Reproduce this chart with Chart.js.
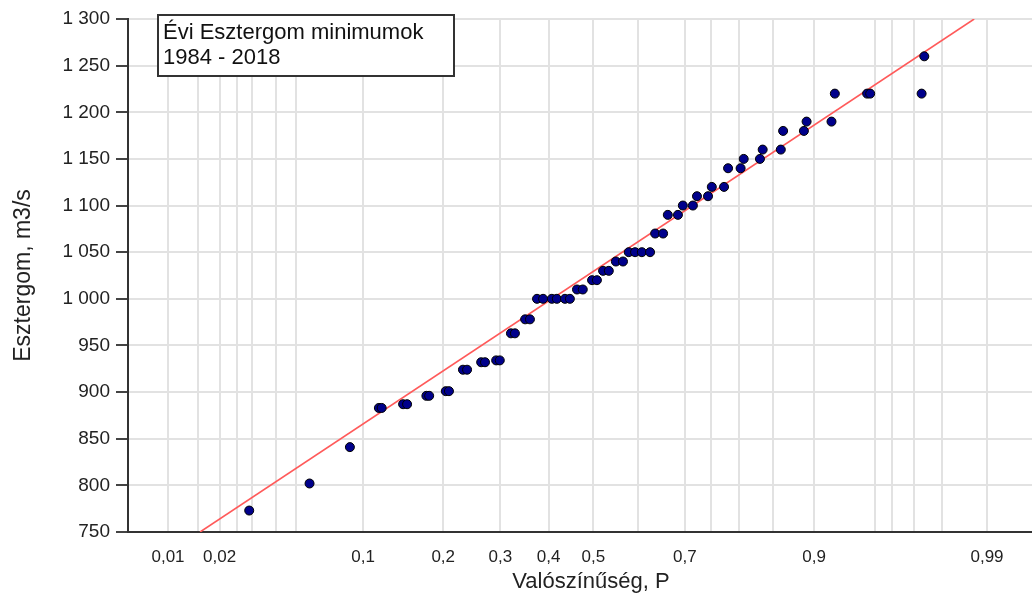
<!DOCTYPE html>
<html lang="hu">
<head>
<meta charset="utf-8">
<title>Évi Esztergom minimumok</title>
<script src="https://cdn.jsdelivr.net/npm/chart.js@4.4.1/dist/chart.umd.min.js"></script>
<style>
	html, body { margin: 0; padding: 0; background: #fff; }
	#wrapper { width: 1032px; height: 599px; }
</style>
</head>
<body>
<div id="wrapper"><canvas id="chart" width="1032" height="599"></canvas></div>
<script>
// Plotting positions (P) of the yearly minimums
const probabilities = [
	0.029, 0.058, 0.088, 0.116, 0.119, 0.144, 0.149, 0.175, 0.179, 0.204,
	0.209, 0.232, 0.239, 0.264, 0.271, 0.292, 0.299, 0.321, 0.329, 0.350,
	0.360, 0.375, 0.388, 0.407, 0.418, 0.436, 0.447, 0.463, 0.476, 0.497,
	0.508, 0.522, 0.535, 0.551, 0.567, 0.580, 0.594, 0.609, 0.627, 0.638,
	0.655, 0.665, 0.686, 0.696, 0.716, 0.724, 0.745, 0.752, 0.774, 0.781,
	0.802, 0.807, 0.832, 0.836, 0.861, 0.864, 0.889, 0.892, 0.917, 0.920,
	0.945, 0.947, 0.973, 0.974
];

// Yearly minimum discharge at Esztergom, m3/s
const discharges = [
	773, 802, 841, 883, 883, 887, 887, 896, 896, 901,
	901, 924, 924, 932, 932, 934, 934, 963, 963, 978,
	978, 1000, 1000, 1000, 1000, 1000, 1000, 1010, 1010, 1020,
	1020, 1030, 1030, 1040, 1040, 1050, 1050, 1050, 1050, 1070,
	1070, 1090, 1090, 1100, 1100, 1110, 1110, 1120, 1120, 1140,
	1140, 1150, 1150, 1160, 1160, 1180, 1180, 1190, 1190, 1220,
	1220, 1220, 1220, 1260
];

// Fitted distribution line, read where it leaves the plot
const fitProbabilities = [0.0155, 0.9877];
const fitDischarges = [750, 1300];

// Probability paper: grid lines and the ones that get a label
const probabilityTicks = [
	0.01, 0.015, 0.02, 0.025, 0.03, 0.04, 0.05, 0.1, 0.2, 0.3, 0.4, 0.5,
	0.6, 0.7, 0.75, 0.8, 0.85, 0.9, 0.95, 0.96, 0.97, 0.98, 0.99
];
const labeledTicks = [0.01, 0.02, 0.1, 0.2, 0.3, 0.4, 0.5, 0.7, 0.9, 0.99];
const probabilityRange = [0.0056, 0.9954];
const dischargeRange = [750, 1300];
const dischargeStep = 50;
const skew = -0.1;

const legendLines = ["Évi Esztergom minimumok", "1984 - 2018"];
const xTitle = "Valószínűség, P";
const yTitle = "Esztergom, m3/s";

const fontFamily = "'Liberation Sans', Arial, sans-serif";

window.addEventListener("load", e => {
	registerProbabilityScale();
	drawChart();
});

// Inverse of the standard normal distribution (Acklam)
function normInv(p) {
	const a = [-39.69683028665376, 220.9460984245205, -275.9285104469687, 138.3577518672690, -30.66479806614716, 2.506628277459239];
	const b = [-54.47609879822406, 161.5858368580409, -155.6989798598866, 66.80131188771972, -13.28068155288572];
	const c = [-0.007784894002430293, -0.3223964580411365, -2.400758277161838, -2.549732539343734, 4.374664141464968, 2.938163982698783];
	const d = [0.007784695709041462, 0.3224671290700398, 2.445134137142996, 3.754408661907416];
	const pLow = 0.02425;
	let q, r;

	if (p < pLow) {
		q = Math.sqrt(-2 * Math.log(p));
		return (((((c[0] * q + c[1]) * q + c[2]) * q + c[3]) * q + c[4]) * q + c[5]) /
			((((d[0] * q + d[1]) * q + d[2]) * q + d[3]) * q + 1);
	}
	if (p <= 1 - pLow) {
		q = p - 0.5;
		r = q * q;
		return (((((a[0] * r + a[1]) * r + a[2]) * r + a[3]) * r + a[4]) * r + a[5]) * q /
			(((((b[0] * r + b[1]) * r + b[2]) * r + b[3]) * r + b[4]) * r + 1);
	}
	q = Math.sqrt(-2 * Math.log(1 - p));
	return -(((((c[0] * q + c[1]) * q + c[2]) * q + c[3]) * q + c[4]) * q + c[5]) /
		((((d[0] * q + d[1]) * q + d[2]) * q + d[3]) * q + 1);
}

// Pearson III frequency factor (Wilson-Hilferty), this is what the x axis is linear in
function frequencyFactor(p) {
	const z = normInv(p);
	const k = skew / 6;
	return (2 / skew) * (Math.pow(1 + k * z - k * k, 3) - 1);
}

function registerProbabilityScale() {
	const LinearScale = Chart.registry.getScale("linear");

	class ProbabilityScale extends LinearScale {
		determineDataLimits() {
			this.min = frequencyFactor(this.options.min);
			this.max = frequencyFactor(this.options.max);
		}
		buildTicks() {
			return probabilityTicks.map(p => ({ value: p }));
		}
		getPixelForValue(value) {
			return super.getPixelForValue(frequencyFactor(value));
		}
	}
	ProbabilityScale.id = "probability";
	ProbabilityScale.defaults = {};

	Chart.register(ProbabilityScale);
}

// "1 300" style numbers
function formatThousands(value) {
	if (value < 1000) return String(value);
	return Math.floor(value / 1000) + "\u00a0" + String(value % 1000).padStart(3, "0");
}

// White box with the series description, and the x axis title
const annotations = {
	id: "annotations",
	afterDraw(chart) {
		const ctx = chart.ctx;
		const area = chart.chartArea;
		const left = area.left + 30;
		const top = area.top - 4;

		ctx.save();
		ctx.fillStyle = "#fff";
		ctx.fillRect(left, top, 296, 61);
		ctx.strokeStyle = "#333";
		ctx.lineWidth = 2;
		ctx.strokeRect(left, top, 296, 61);
		ctx.fillStyle = "#111";
		ctx.font = "22px " + fontFamily;
		ctx.textBaseline = "middle";
		legendLines.forEach((line, i) => {
			ctx.fillText(line, left + 5, top + 18 + i * 25);
		});

		// x title sits a little right of the plot centre
		ctx.fillStyle = "#222";
		ctx.textAlign = "center";
		ctx.fillText(xTitle, (area.left + area.right) / 2 + 11, chart.height - 17);
		ctx.restore();
	}
};

function drawChart() {
	const points = probabilities.map((p, i) => ({ x: p, y: discharges[i] }));
	const fit = fitProbabilities.map((p, i) => ({ x: p, y: fitDischarges[i] }));

	const ctx = document.getElementById("chart").getContext("2d");
	new Chart(ctx, {
		type: "scatter",
		data: {
			datasets: [
				{
					label: "Minimumok",
					data: points,
					backgroundColor: "#00008b",
					borderColor: "#000",
					borderWidth: 1,
					pointRadius: 4.5,
					order: 0,
				},
				{
					label: "Illesztés",
					data: fit,
					showLine: true,
					borderColor: "#ff5a5a",
					borderWidth: 1.6,
					pointRadius: 0,
					order: 1,
				},
			],
		},
		options: {
			responsive: false,
			animation: false,
			events: [],
			layout: { autoPadding: false, padding: { top: 19, right: 0, bottom: 0, left: 0 } },
			plugins: {
				legend: { display: false },
				tooltip: { enabled: false },
			},
			scales: {
				x: {
					type: "probability",
					min: probabilityRange[0],
					max: probabilityRange[1],
					border: { color: "#333", width: 2 },
					grid: { color: "#e2e2e2", lineWidth: 2, drawTicks: false },
					ticks: {
						autoSkip: false,
						maxRotation: 0,
						padding: 15,
						color: "#222",
						font: { family: fontFamily, size: 17 },
						callback: value => labeledTicks.includes(value) ? String(value).replace(".", ",") : "",
					},
					afterFit: scale => {
						scale.height = 67;
						scale.paddingLeft = 0;
						scale.paddingRight = 0;
					},
				},
				y: {
					type: "linear",
					min: dischargeRange[0],
					max: dischargeRange[1],
					border: { color: "#333", width: 2 },
					grid: { color: "#e2e2e2", lineWidth: 2, tickColor: "#444", tickWidth: 2, tickLength: 12 },
					ticks: {
						stepSize: dischargeStep,
						autoSkip: false,
						padding: 6,
						color: "#222",
						font: { family: fontFamily, size: 19 },
						callback: value => formatThousands(value),
					},
					title: {
						display: true,
						text: yTitle,
						color: "#222",
						font: { family: fontFamily, size: 23 },
						padding: { top: 10, bottom: 0 },
					},
					afterFit: scale => { scale.width = 128; },
				},
			},
		},
		plugins: [annotations],
	});
}
</script>
</body>
</html>
